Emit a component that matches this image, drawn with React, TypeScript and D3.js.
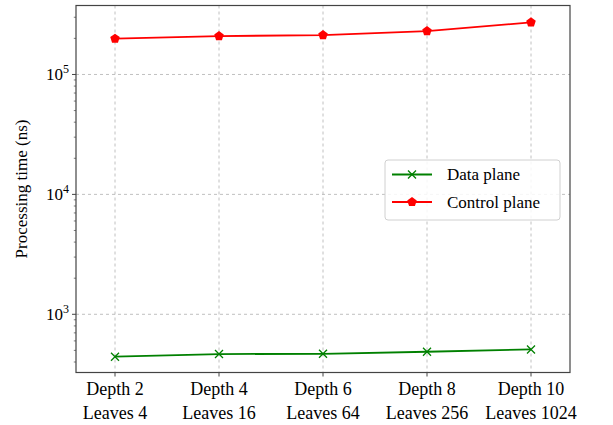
import React from 'react';
import * as d3 from 'd3';

const depths = ['Depth 2', 'Depth 4', 'Depth 6', 'Depth 8', 'Depth 10'];
const leaves = ['Leaves 4', 'Leaves 16', 'Leaves 64', 'Leaves 256', 'Leaves 1024'];
const dataPlane = [443, 466, 468, 487, 509];
const controlPlane = [199000, 209000, 213000, 230000, 272000];
const yTicks = [1000, 10000, 100000];

const W = 613;
const H = 425;
const m = { left: 76, right: 43, top: 5.5, bottom: 52.5 };
const font =
  "'Times New Roman', Times, 'Liberation Serif', Tinos, 'Nimbus Roman', 'Noto Serif', 'DejaVu Serif', FreeSerif, serif";

export default function App() {
  const x = d3
    .scalePoint<number>()
    .domain(d3.range(depths.length))
    .range([m.left, W - m.right])
    .padding(0.375);
  const y = d3.scaleLog().domain([327, 376000]).range([H - m.bottom, m.top]);

  const line = d3
    .line<number>()
    .x((_, i) => x(i)!)
    .y((d) => y(d));

  const minor: number[] = [];
  for (const dec of [100, 1000, 10000, 100000]) {
    for (let k = 2; k <= 9; k++) {
      const v = dec * k;
      if (v >= 327 && v <= 376000) minor.push(v);
    }
  }

  const pentagon = (cx: number, cy: number, r: number) =>
    d3
      .range(5)
      .map((i) => {
        const a = -Math.PI / 2 + (i * 2 * Math.PI) / 5;
        return `${cx + r * Math.cos(a)},${cy + r * Math.sin(a)}`;
      })
      .join(' ');

  const cross = (cx: number, cy: number, r: number) =>
    `M${cx - r},${cy - r}L${cx + r},${cy + r}M${cx - r},${cy + r}L${cx + r},${cy - r}`;

  const x0 = m.left;
  const x1 = W - m.right;
  const y0 = m.top;
  const y1 = H - m.bottom;

  return (
    <svg width={W} height={H} style={{ position: 'absolute', left: 0, top: 0, fontFamily: font }}>
      <rect width={W} height={H} fill="white" />
      {/* grid */}
      {yTicks.map((t) => (
        <line key={t} x1={x0} x2={x1} y1={y(t)} y2={y(t)} stroke="#b0b0b0" strokeDasharray="3,3" strokeWidth={0.8} />
      ))}
      {depths.map((_, i) => (
        <line key={i} x1={x(i)} x2={x(i)} y1={y0} y2={y1} stroke="#b0b0b0" strokeDasharray="3,3" strokeWidth={0.8} />
      ))}
      {/* lines */}
      <path d={line(dataPlane)!} fill="none" stroke="#008000" strokeWidth={1.8} />
      {dataPlane.map((d, i) => (
        <path key={i} d={cross(x(i)!, y(d), 4)} stroke="#008000" strokeWidth={1.3} fill="none" />
      ))}
      <path d={line(controlPlane)!} fill="none" stroke="#ff0000" strokeWidth={1.8} />
      {controlPlane.map((d, i) => (
        <polygon key={i} points={pentagon(x(i)!, y(d), 5)} fill="#ff0000" />
      ))}
      {/* frame */}
      <rect x={x0} y={y0} width={x1 - x0} height={y1 - y0} fill="none" stroke="#444" strokeWidth={1.2} />
      {/* y ticks */}
      {yTicks.map((t) => (
        <g key={t}>
          <line x1={x0 - 4} x2={x0} y1={y(t)} y2={y(t)} stroke="#444" />
          <text x={x0 - 7} y={y(t) + 6} textAnchor="end" fontSize={17}>
            10<tspan dy={-7} fontSize={12}>{Math.round(Math.log10(t))}</tspan>
          </text>
        </g>
      ))}
      {minor.map((t) => (
        <line key={t} x1={x0 - 2.2} x2={x0} y1={y(t)} y2={y(t)} stroke="#444" strokeWidth={0.7} />
      ))}
      {/* x ticks */}
      {depths.map((dname, i) => (
        <g key={i}>
          <line x1={x(i)} x2={x(i)} y1={y1} y2={y1 + 4} stroke="#444" />
          <text x={x(i)} y={y1 + 22} textAnchor="middle" fontSize={18}>
            {dname}
          </text>
          <text x={x(i)} y={y1 + 46} textAnchor="middle" fontSize={18}>
            {leaves[i]}
          </text>
        </g>
      ))}
      <text
        transform={`translate(27,${(y0 + y1) / 2}) rotate(-90)`}
        textAnchor="middle"
        fontSize={17}
      >
        Processing time (ns)
      </text>
      {/* legend */}
      <g>
        <rect x={385} y={160} width={175} height={60} rx={3} fill="white" fillOpacity={0.85} stroke="#d0d0d0" />
        <line x1={392} x2={432} y1={174.5} y2={174.5} stroke="#008000" strokeWidth={1.8} />
        <path d={cross(412, 174.5, 4)} stroke="#008000" strokeWidth={1.3} />
        <text x={447} y={180} fontSize={17}>Data plane</text>
        <line x1={392} x2={432} y1={202} y2={202} stroke="#ff0000" strokeWidth={1.8} />
        <polygon points={pentagon(412, 202, 5)} fill="#ff0000" />
        <text x={447} y={208} fontSize={17}>Control plane</text>
      </g>
    </svg>
  );
}
